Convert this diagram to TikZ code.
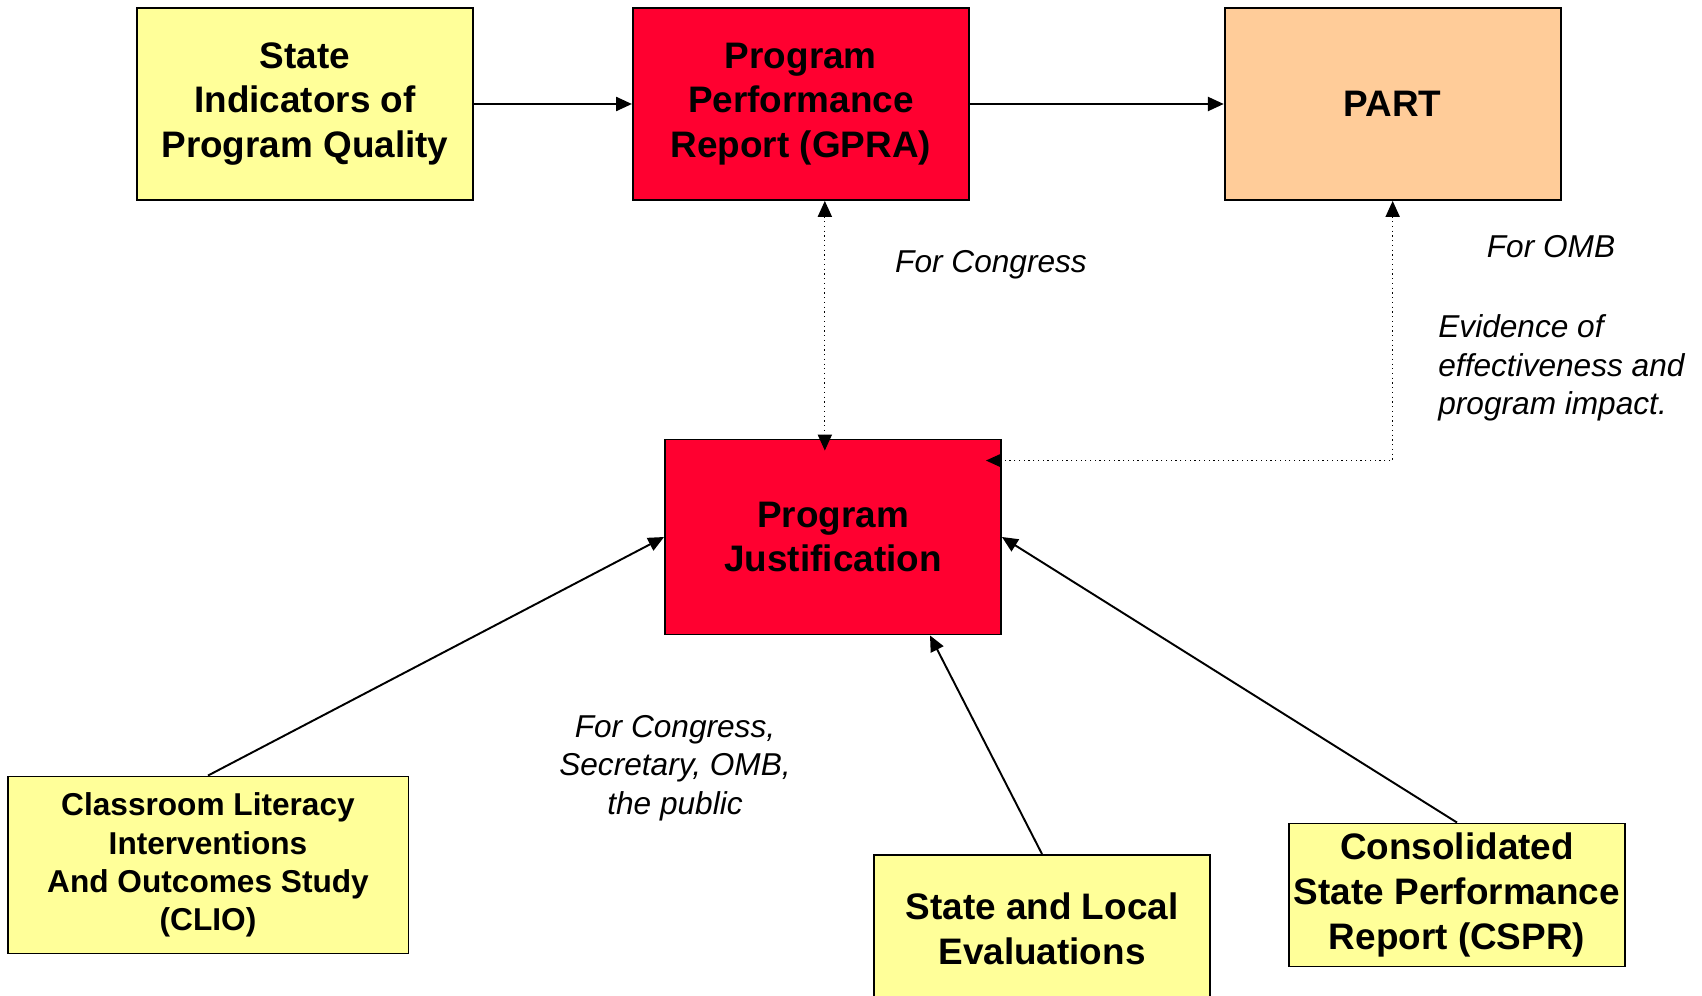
\documentclass[tikz,border=0pt]{standalone}
\usepackage{fontspec}
\setmainfont{Liberation Sans}
\usetikzlibrary{positioning,arrows.meta}

\definecolor{srcyellow}{HTML}{FFFF99}
\definecolor{repred}{HTML}{FF0030}
\definecolor{partpeach}{HTML}{FFCC99}

\begin{document}
\begin{tikzpicture}[
  x=0.02cm, y=-0.02cm,
  box/.style={draw, line width=1.1pt, align=center, inner sep=0pt, minimum width=6.72cm, font=\fontsize{21}{25.4}\selectfont\bfseries},
  src/.style={box, fill=srcyellow},
  rep/.style={box, fill=repred},
  omb/.style={box, fill=partpeach},
  note/.style={align=center, inner sep=0pt, font=\fontsize{18}{21.9}\selectfont\itshape},
  arr/.style={-{Triangle[length=9pt,width=8pt]}, line width=1.1pt},
  dots/.style={{Triangle[length=9pt,width=8pt]}-{Triangle[length=9pt,width=8pt]}, dotted, line width=0.7pt}
]
\useasboundingbox (0,0) rectangle (1702,996);

% top row
\node[src, minimum height=3.84cm] (indic) at (305,104) {State\\Indicators of\\Program Quality};
\node[rep, minimum height=3.84cm, right=3.16cm of indic] (gpra) {Program\\Performance\\Report (GPRA)};
\node[omb, minimum height=3.84cm, right=5.08cm of gpra] (part) {PART};

% middle
\node[rep, minimum height=3.9cm] (just) at (833,537) {Program\\Justification};

% sources
\node[src, minimum width=8.02cm, minimum height=3.54cm, font=\fontsize{18}{21.8}\selectfont\bfseries] (clio) at (208,865) {Classroom Literacy\\Interventions\\And Outcomes Study\\(CLIO)};
\node[src, minimum height=2.96cm] (local) at (1042,929) {State and Local\\Evaluations};
\node[src, minimum height=2.86cm] (cspr) at (1457,895) {Consolidated\\State Performance\\Report (CSPR)};

% notes
\node[note] (congress) at (991,265) {For Congress};
\node[note] (omb) at (1551,247) {For OMB};
\node[note, align=left, anchor=west] (evid) at (1438,368) {Evidence of\\effectiveness and\\program impact.};
\node[note] (public) at (675,768) {For Congress,\\Secretary, OMB,\\the public};

\draw[arr] (indic) -- (gpra);
\draw[arr] (gpra) -- (part);
\draw[dots] ([xshift=0.48cm]gpra.south) -- ([xshift=0.48cm, yshift=-0.24cm]gpra.south |- just.north);
\draw[dots] (part.south) |- ([xshift=-0.32cm, yshift=-0.44cm]just.north east);
\draw[arr] (clio.north) -- (just.west);
\draw[arr] (local.north) -- ([xshift=1.94cm]just.south);
\draw[arr] (cspr.north) -- (just.east);

\end{tikzpicture}
\end{document}
